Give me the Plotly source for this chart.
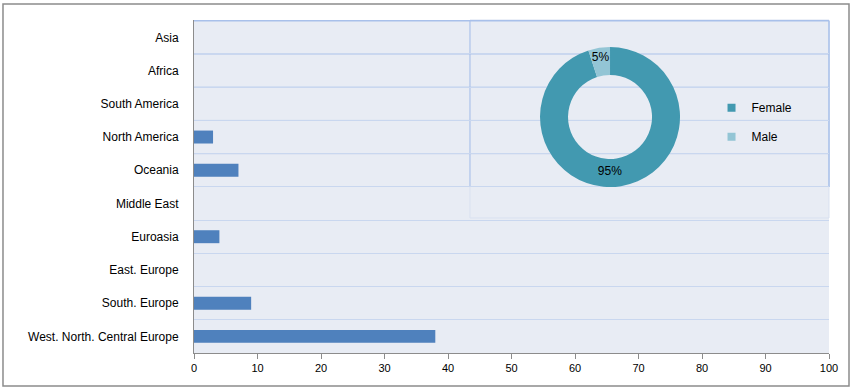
import plotly.graph_objects as go

categories = ["Asia", "Africa", "South America", "North America", "Oceania",
              "Middle East", "Euroasia", "East. Europe", "South. Europe",
              "West. North. Central Europe"]
values = [0, 0, 0, 3, 7, 0, 4, 0, 9, 38]

gender_labels = ["Female", "Male"]
gender_values = [95, 5]
gender_colors = ["#4299b0", "#93c5d5"]

x_ticks = list(range(0, 101, 10))

FONT = "Liberation Sans"
DARK_GRID = "#a8c0ea"
LIGHT_GRID = "#c9d7ef"

fig = go.Figure()
fig.add_trace(go.Bar(
    x=values, y=categories, orientation="h",
    marker=dict(color="#4f81bd", line=dict(width=0)),
    showlegend=False, hoverinfo="x+y",
))
fig.add_trace(go.Pie(
    labels=gender_labels, values=gender_values,
    hole=0.6, sort=False, direction="clockwise", rotation=0,
    marker=dict(colors=gender_colors, line=dict(width=0)),
    textinfo="percent", textposition="inside",
    insidetextorientation="horizontal",
    textfont=dict(family=FONT, size=12, color="#000000"),
    domain=dict(x=[0.5449, 0.7654], y=[0.4985, 0.9189]),
    showlegend=False,
))
# legend entries for the doughnut slices
for lab, col in zip(gender_labels, gender_colors):
    fig.add_trace(go.Scatter(
        x=[None], y=[None], mode="markers", name=lab, legendgroup=lab,
        marker=dict(symbol="square", size=8, color=col),
        showlegend=True, hoverinfo="skip",
    ))

shapes = []
# outer chart border
shapes.append(dict(type="rect", xref="paper", yref="paper",
                   x0=-0.3008, x1=1.0315, y0=-0.0991, y1=1.048,
                   line=dict(color="#8c8c8c", width=1.5), layer="above"))
# faint pie plot area
shapes.append(dict(type="rect", xref="paper", yref="paper",
                   x0=0.4346, x1=1.0, y0=0.4054, y1=1.0,
                   line=dict(color="#d9e1f0", width=1), layer="below"))
# darker grid in top region
shapes.append(dict(type="line", xref="paper", yref="y",
                   x0=0, x1=1, y0=-0.5, y1=-0.5,
                   line=dict(color=DARK_GRID, width=1.5), layer="below"))
shapes.append(dict(type="line", xref="paper", yref="y",
                   x0=1, x1=1, y0=-0.5, y1=4.5,
                   line=dict(color=DARK_GRID, width=1.5), layer="below"))
for b in [0.5, 1.5, 2.5, 3.5]:
    shapes.append(dict(type="line", xref="paper", yref="y",
                       x0=0, x1=1, y0=b, y1=b,
                       line=dict(color=DARK_GRID, width=1), layer="below"))
shapes.append(dict(type="line", xref="paper", yref="y",
                   x0=0.4346, x1=0.4346, y0=-0.5, y1=4.5,
                   line=dict(color=DARK_GRID, width=1), layer="below"))

fig.update_layout(
    width=855, height=392,
    margin=dict(l=194, r=26, t=20, b=39),
    paper_bgcolor="white",
    plot_bgcolor="#e8ecf4",
    font=dict(family=FONT, size=12, color="#000000"),
    bargap=0.61,
    shapes=shapes,
    uniformtext=dict(minsize=12, mode="show"),
    legend=dict(x=0.815, y=0.78, xanchor="left", yanchor="top",
                bgcolor="rgba(0,0,0,0)", font=dict(family=FONT, size=12),
                tracegroupgap=10, itemwidth=30),
    xaxis=dict(range=[0, 100], tickvals=x_ticks, showgrid=False,
               zeroline=False, showline=True, linecolor="#8c8c8c",
               ticks="outside", ticklen=5, tickcolor="#8c8c8c",
               tickfont=dict(size=11), fixedrange=True),
    yaxis=dict(type="category", categoryarray=categories,
               categoryorder="array", autorange="reversed",
               tickson="boundaries", showgrid=True, gridcolor=LIGHT_GRID,
               showline=True, linecolor="#8c8c8c", ticks="",
               ticklabelstandoff=12, tickfont=dict(size=12),
               fixedrange=True),
)

fig.write_html("out.html",
               config={"displayModeBar": False},
               post_script="document.body.style.margin='0';")
